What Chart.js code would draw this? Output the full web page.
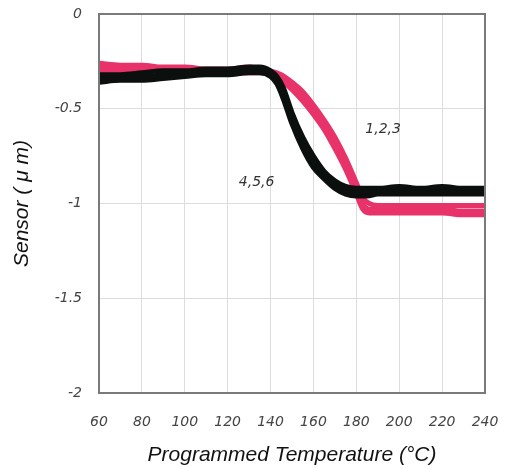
<!DOCTYPE html>
<html><head><meta charset="utf-8">
<script src="https://cdn.jsdelivr.net/npm/chart.js@4/dist/chart.umd.min.js"></script>
<style>html,body{margin:0;padding:0;background:#fff;}canvas{display:block;}</style>
</head><body>
<canvas id="c" width="510" height="468"></canvas>
<script>
const xTicks = [60,80,100,120,140,160,180,200,220,240];
const yTicks = [0,-0.5,-1,-1.5,-2];

const pinkTemps = [60,70,80,90,100,110,120,130,135,140,145,150,155,160,165,170,175,180,183,186,190,200,210,220,230,240];
const series1 = [-0.26,-0.27,-0.27,-0.28,-0.28,-0.29,-0.29,-0.28,-0.29,-0.30,-0.32,-0.36,-0.41,-0.48,-0.56,-0.65,-0.76,-0.89,-0.97,-1.00,-1.01,-1.01,-1.01,-1.01,-1.01,-1.01];
const series2 = [-0.28,-0.29,-0.28,-0.29,-0.30,-0.30,-0.30,-0.30,-0.30,-0.31,-0.33,-0.38,-0.43,-0.50,-0.58,-0.68,-0.79,-0.92,-1.00,-1.03,-1.03,-1.03,-1.03,-1.03,-1.04,-1.04];
const series3 = [-0.30,-0.30,-0.30,-0.30,-0.31,-0.31,-0.31,-0.31,-0.31,-0.32,-0.35,-0.40,-0.46,-0.53,-0.61,-0.71,-0.82,-0.95,-1.03,-1.05,-1.05,-1.05,-1.05,-1.05,-1.06,-1.06];

const blackTemps = [60,70,80,90,100,110,120,130,135,140,143,146,150,155,160,165,170,175,180,185,190,200,210,220,230,240];
const series4 = [-0.32,-0.32,-0.31,-0.30,-0.30,-0.29,-0.29,-0.28,-0.28,-0.30,-0.33,-0.39,-0.52,-0.65,-0.75,-0.83,-0.88,-0.91,-0.92,-0.92,-0.92,-0.91,-0.92,-0.91,-0.92,-0.92];
const series5 = [-0.34,-0.33,-0.33,-0.32,-0.31,-0.31,-0.30,-0.30,-0.30,-0.31,-0.35,-0.42,-0.55,-0.68,-0.78,-0.85,-0.90,-0.93,-0.94,-0.94,-0.93,-0.93,-0.93,-0.93,-0.93,-0.93];
const series6 = [-0.36,-0.35,-0.35,-0.34,-0.33,-0.32,-0.32,-0.31,-0.31,-0.33,-0.37,-0.45,-0.58,-0.71,-0.81,-0.87,-0.92,-0.95,-0.96,-0.96,-0.95,-0.95,-0.95,-0.95,-0.95,-0.95];

const labels = [
  {text:'1,2,3', x:192.5, y:-0.61},
  {text:'4,5,6', x:133.5, y:-0.89}
];

const PINK = '#e8336a';
const BLACK = '#0b0f0d';
const TICKFONT = { family: '"DejaVu Sans", sans-serif', size: 14, style: 'italic' };
const TITLEFONT = { family: '"Liberation Sans", Arial, sans-serif', size: 21, style: 'italic' };

function pts(xs, ys){ return xs.map((x,i)=>({x:x, y:ys[i]})); }
function ds(xs, ys, color){
  return {data: pts(xs, ys), borderColor: color, backgroundColor: color, borderWidth: 5,
    pointRadius: 0, cubicInterpolationMode: 'monotone', fill: false};
}

const frame = {
  id: 'frame',
  afterDatasetsDraw(chart){
    const {ctx, chartArea:a} = chart;
    ctx.save();
    ctx.strokeStyle = '#7a7a7a';
    ctx.lineWidth = 2;
    ctx.strokeRect(a.left, a.top, a.right - a.left, a.bottom - a.top);
    ctx.font = 'italic 14px "DejaVu Sans", sans-serif';
    ctx.fillStyle = '#333';
    ctx.textAlign = 'center';
    ctx.textBaseline = 'middle';
    for (const l of labels){
      ctx.fillText(l.text, chart.scales.x.getPixelForValue(l.x), chart.scales.y.getPixelForValue(l.y));
    }
    ctx.restore();
  }
};

new Chart(document.getElementById('c'), {
  type: 'line',
  data: { datasets: [
    ds(blackTemps, series4, BLACK), ds(blackTemps, series5, BLACK), ds(blackTemps, series6, BLACK),
    ds(pinkTemps, series1, PINK), ds(pinkTemps, series2, PINK), ds(pinkTemps, series3, PINK)
  ]},
  options: {
    responsive: false, animation: false,
    layout: { autoPadding: false, padding: { top: 14, right: 25, bottom: 0, left: 0 } },
    plugins: { legend: {display:false}, tooltip: {enabled:false} },
    scales: {
      x: {
        type: 'linear', min: 60, max: 240,
        afterBuildTicks(s){ s.ticks = xTicks.map(v=>({value:v})); },
        afterFit(s){ s.height = 75; s.paddingLeft = 0; s.paddingRight = 0; },
        grid: { color: '#dcdcdc', lineWidth: 1, drawTicks: false },
        border: { display: false },
        ticks: { padding: 21, color: '#444', maxRotation: 0, font: TICKFONT },
        title: { display: true, text: 'Programmed Temperature (°C)', color: '#111',
          font: TITLEFONT, padding: { top: 2, bottom: 0 } }
      },
      y: {
        type: 'linear', min: -2, max: 0,
        afterBuildTicks(s){ s.ticks = yTicks.map(v=>({value:v})); },
        afterFit(s){ s.width = 99; s.paddingTop = 0; s.paddingBottom = 0; },
        grid: { color: '#dcdcdc', lineWidth: 1, drawTicks: false },
        border: { display: false },
        ticks: { padding: 17, color: '#444', font: TICKFONT, callback: v => String(v) },
        title: { display: true, text: 'Sensor ( μ m)', color: '#111',
          font: TITLEFONT, padding: { top: 10, bottom: 0 } }
      }
    }
  },
  plugins: [frame]
});
</script>
</body></html>
